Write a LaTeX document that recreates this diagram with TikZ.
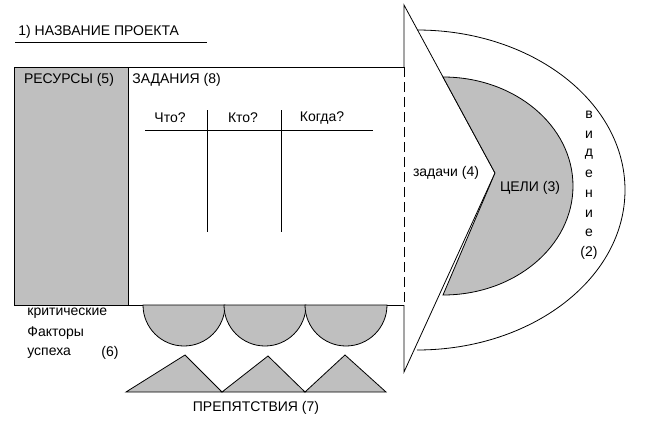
\documentclass[tikz,border=0pt]{standalone}
\usepackage{fontspec}
\setmainfont{Liberation Sans}
\begin{document}
\begin{tikzpicture}[x=1pt,y=-1pt,line width=0.8pt,
  txt/.style={inner sep=0pt,font=\fontsize{14}{16}\selectfont},
  grayfill/.style={fill=black!25,draw=black}]
\useasboundingbox (0,0) rectangle (649,437);
\fill[white] (0,0) rectangle (649,437);
% title
\node[txt,anchor=west] (title) at (18,32) {1) НАЗВАНИЕ ПРОЕКТА};
\draw (15,42) -- (207,42);
% main rectangle
\draw[fill=white] (14,67) rectangle (404,305);
\draw[grayfill] (14,67) rectangle (128,305);
\node[txt] (res) at (69,80) {РЕСУРСЫ (5)};
\node[txt,anchor=west] (zad) at (132,80) {ЗАДАНИЯ (8)};
% table
\node[txt] (what) at (170,118) {Что?};
\node[txt] (who) at (243,118) {Кто?};
\node[txt] (when) at (322,118) {Когда?};
\draw (145,130) -- (373,130);
\draw (207,110) -- (207,232);
\draw (281,110) -- (281,232);
% outer vision shape
\draw[fill=white] (417,30) arc[start angle=-90,end angle=90,x radius=208,y radius=160];
% triangle
\fill[white] (404,5) -- (495,173) -- (404,372) -- cycle;
\draw (404,67) -- (404,5) -- (495,173) -- (404,372) -- (404,305);
\draw[dashed,dash pattern=on 10pt off 5pt] (404,67) -- (404,305);
% inner goals
\draw[grayfill] (443,77) arc[start angle=-90,end angle=90,x radius=130,y radius=109] -- (495,173) -- cycle;
\node[txt] (tasks) at (446,173) {задачи (4)};
\node[txt] (goals) at (530,188) {ЦЕЛИ (3)};
\foreach \l [count=\i from 0] in {в,и,д,е,н,и,е,(2)}
  \node[txt] (v\i) at (589,115+19.7*\i) {\l};
% success factors
\foreach \c in {184,265,346}
  \draw[grayfill] (\c-41,305) arc[start angle=180,end angle=0,radius=41] -- cycle;
\node[txt,anchor=west] (k1) at (27,313) {критические};
\node[txt,anchor=west] (k2) at (27,333) {Факторы};
\node[txt,anchor=west] (k3) at (27,353) {успеха};
\node[txt,anchor=west] (k4) at (101,353) {(6)};
% obstacles
\draw[grayfill] (126,392) -- (185,355) -- (222,392) -- cycle;
\draw[grayfill] (222,392) -- (268,356) -- (305,392) -- cycle;
\draw[grayfill] (305,392) -- (345,355) -- (386,392) -- cycle;
\node[txt] (obs) at (256,408) {ПРЕПЯТСТВИЯ (7)};
\end{tikzpicture}
\end{document}
